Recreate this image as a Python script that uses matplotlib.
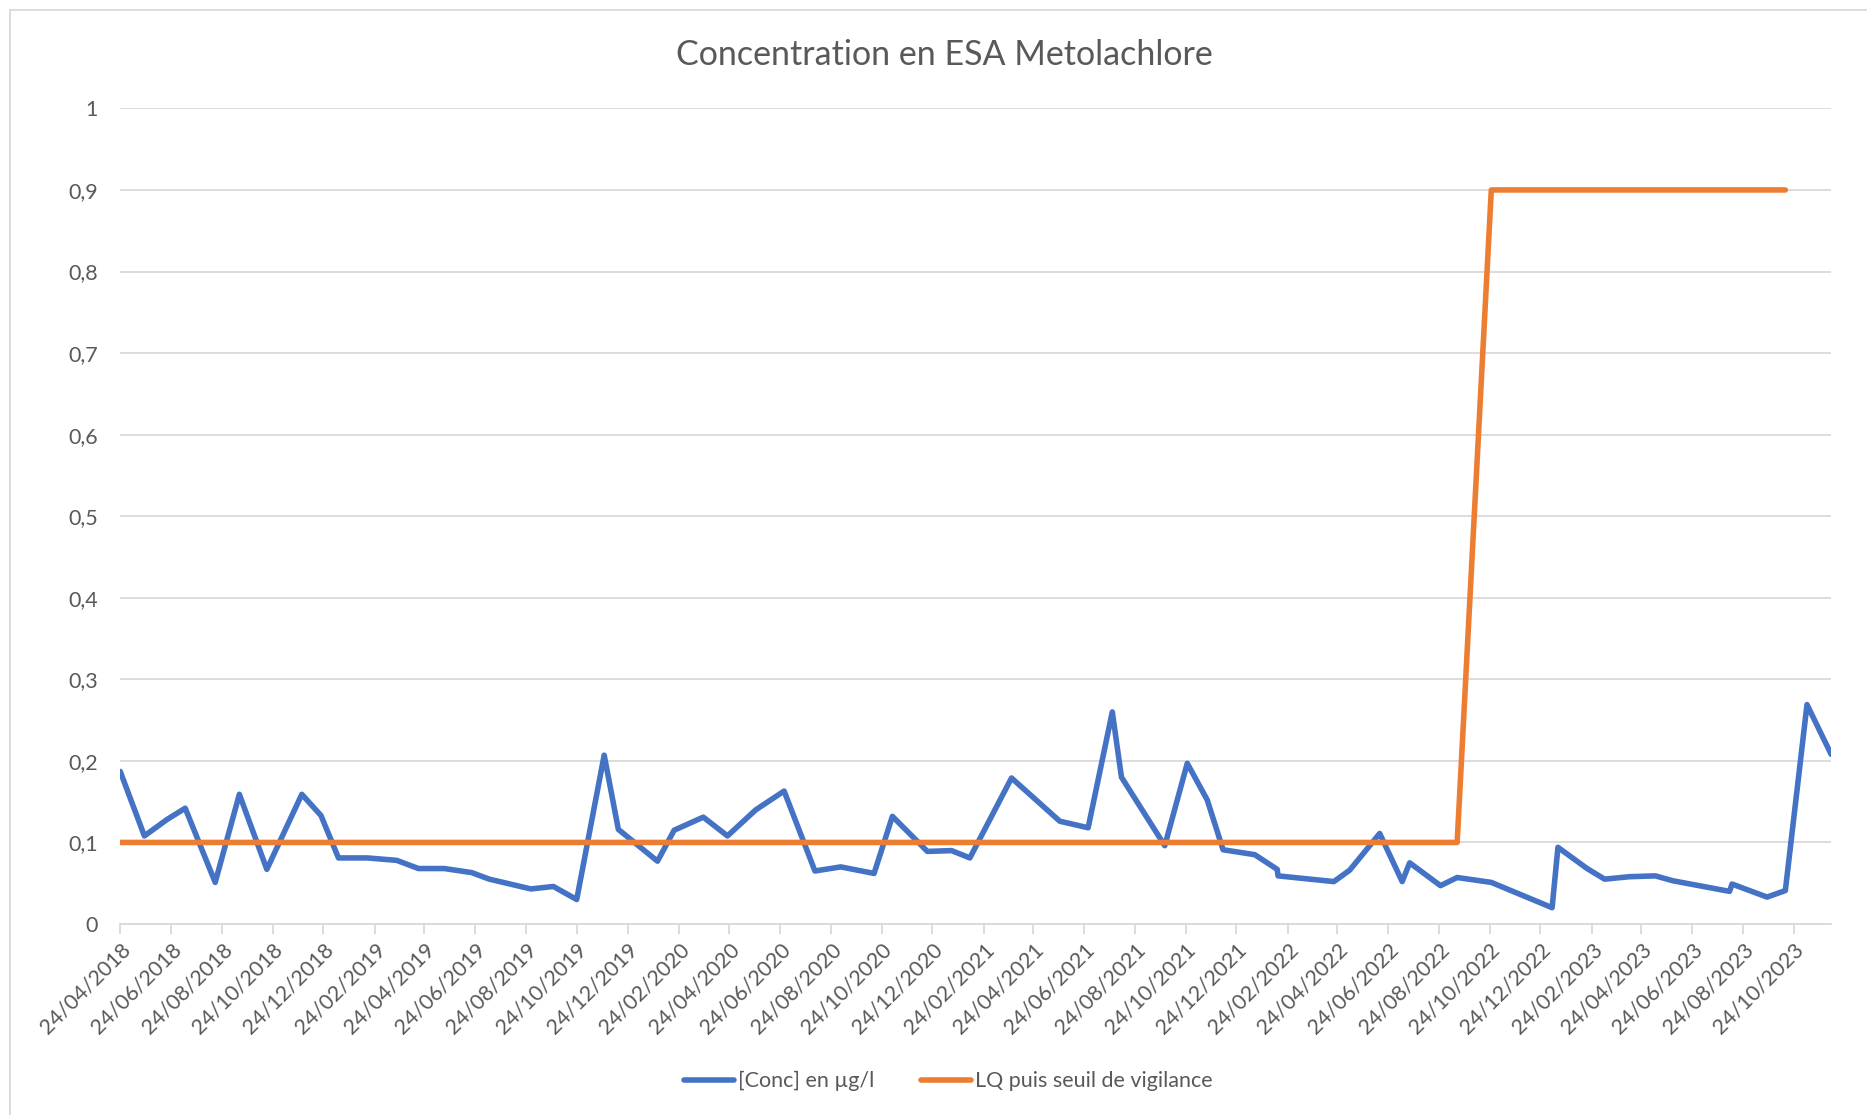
import matplotlib
matplotlib.use("Agg")
import matplotlib.pyplot as plt
from matplotlib.patches import Rectangle
import pandas as pd
import numpy as np

# données
dates = [
    "2018-04-24", "2018-05-23", "2018-06-19", "2018-07-11", "2018-08-16", "2018-09-14",
    "2018-10-17", "2018-11-28", "2018-12-21", "2019-01-11", "2019-02-15", "2019-03-22",
    "2019-04-17", "2019-05-18", "2019-06-20", "2019-07-11", "2019-08-30", "2019-09-26",
    "2019-10-24", "2019-11-26", "2019-12-13", "2020-01-29", "2020-02-18", "2020-03-24",
    "2020-04-22", "2020-05-26", "2020-06-29", "2020-08-05", "2020-09-05", "2020-10-15",
    "2020-11-06", "2020-12-18", "2021-01-16", "2021-02-07", "2021-03-29", "2021-05-26",
    "2021-06-29", "2021-07-28", "2021-08-08", "2021-09-29", "2021-10-26", "2021-11-19",
    "2021-12-08", "2022-01-15", "2022-02-11", "2022-02-12", "2022-04-20", "2022-05-09",
    "2022-06-14", "2022-07-11", "2022-07-20", "2022-08-26", "2022-09-15", "2022-10-26",
    "2023-01-07", "2023-01-14", "2023-02-18", "2023-03-11", "2023-04-10", "2023-05-11",
    "2023-06-01", "2023-08-08", "2023-08-11", "2023-09-22", "2023-10-14", "2023-11-09",
    "2023-12-08",
]
conc = [
    0.187, 0.108, 0.128, 0.142, 0.051, 0.159,
    0.067, 0.159, 0.133, 0.081, 0.081, 0.078,
    0.068, 0.068, 0.063, 0.055, 0.043, 0.046,
    0.030, 0.207, 0.116, 0.077, 0.115, 0.131,
    0.108, 0.140, 0.163, 0.065, 0.070, 0.062,
    0.132, 0.089, 0.090, 0.081, 0.179, 0.126,
    0.118, 0.260, 0.180, 0.096, 0.197, 0.152,
    0.091, 0.085, 0.067, 0.059, 0.052, 0.066,
    0.111, 0.052, 0.075, 0.047, 0.057, 0.051,
    0.020, 0.094, 0.068, 0.055, 0.058, 0.059,
    0.053, 0.040, 0.049, 0.033, 0.041, 0.269,
    0.208,
]
seuil = [0.1] * 53 + [0.9] * 12 + [np.nan, np.nan]

dates = pd.to_datetime(dates)
BLUE = "#4472C4"
ORANGE = "#ED7D31"
GREY = "#595959"
GRID = "#D9D9D9"
FONT = ["Lato", "DejaVu Sans"]
plt.rcParams["font.family"] = FONT

fig = plt.figure(figsize=(18.67, 11.15), dpi=100)
ax = fig.add_axes([0.0644, 0.1713, 0.9164, 0.7315])

# cadre du graphique
fig.patches.append(Rectangle((10 / 1867, -0.05), 1.1, 1.05 - 10 / 1115,
                             transform=fig.transFigure, fill=False,
                             edgecolor=GRID, linewidth=1.3))

ax.plot(dates, conc, color=BLUE, lw=4.0, solid_joinstyle="round",
        solid_capstyle="round", label="[Conc] en µg/l", zorder=3)
ax.plot(dates, seuil, color=ORANGE, lw=4.0, solid_joinstyle="round",
        solid_capstyle="round", label="LQ puis seuil de vigilance", zorder=3)

ax.set_xlim(dates[0], dates[-1])
ax.set_ylim(0, 1)

ticks = [pd.Timestamp(2018, 4, 24) + pd.DateOffset(months=2 * i) for i in range(34)]
ax.set_xticks(ticks)
ax.set_xticklabels([t.strftime("%d/%m/%Y") for t in ticks], rotation=45,
                   ha="right", rotation_mode="anchor", color=GREY, fontsize=15.5)
yt = np.round(np.arange(0, 1.01, 0.1), 1)
ax.set_yticks(yt)
ax.set_yticklabels([("%g" % v).replace(".", ",") for v in yt], color=GREY, fontsize=15.5)

ax.grid(axis="y", color=GRID, lw=1.3)
ax.set_axisbelow(True)
for s in ["top", "right", "left"]:
    ax.spines[s].set_visible(False)
ax.spines["bottom"].set_color(GRID)
ax.spines["bottom"].set_linewidth(1.3)
ax.tick_params(axis="x", length=7, width=1.3, color=GRID, pad=4)
ax.tick_params(axis="y", length=0, pad=16)

fig.text(0.506, 0.951, "Concentration en ESA Metolachlore", ha="center", va="center",
         fontsize=24.5, color=GREY)

fig.legend(loc="center", bbox_to_anchor=(0.508, 0.0305), ncol=2, frameon=False,
           fontsize=15.5, labelcolor=GREY, handlelength=2.3, handletextpad=0.2,
           columnspacing=2.2)

fig.savefig("out.png", dpi=100)
